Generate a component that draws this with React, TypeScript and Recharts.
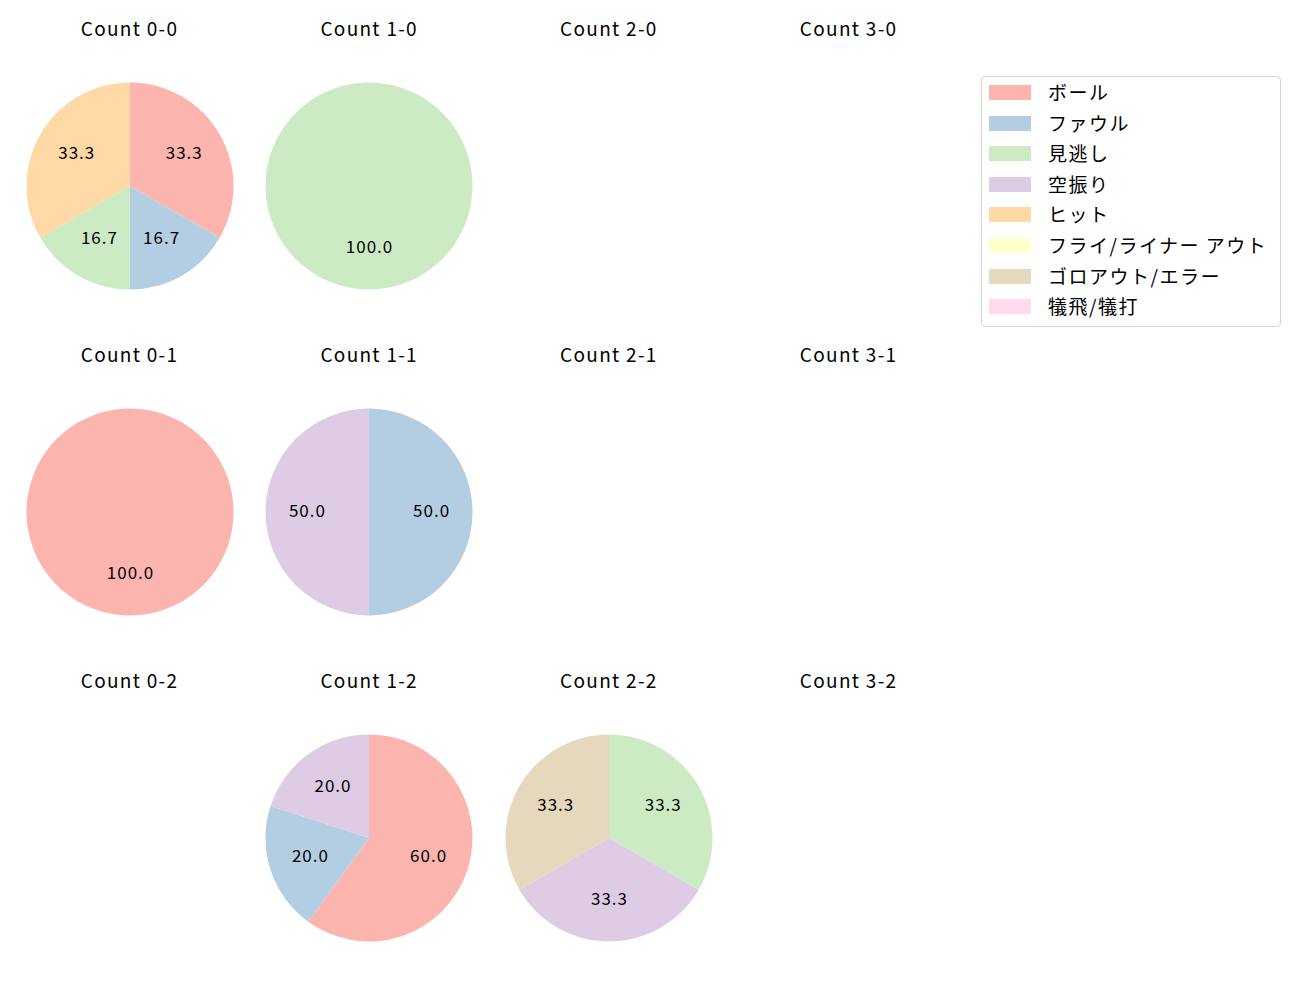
import { Cell, Pie, PieChart } from "recharts";

// Result categories and their colours (Pastel1)
const categories = [
	"ボール",
	"ファウル",
	"見逃し",
	"空振り",
	"ヒット",
	"フライ/ライナー アウト",
	"ゴロアウト/エラー",
	"犠飛/犠打",
];
const categoryColors = [
	"#fbb4ae",
	"#b3cde3",
	"#ccebc5",
	"#decbe4",
	"#fed9a6",
	"#ffffcc",
	"#e5d8bd",
	"#fddaec",
];

// Counts per category (same order as categories) for each ball-strike count
const balls = [0, 1, 2, 3];
const strikes = [0, 1, 2];
const count00 = [2, 1, 1, 0, 2, 0, 0, 0];
const count10 = [0, 0, 1, 0, 0, 0, 0, 0];
const count20 = [0, 0, 0, 0, 0, 0, 0, 0];
const count30 = [0, 0, 0, 0, 0, 0, 0, 0];
const count01 = [1, 0, 0, 0, 0, 0, 0, 0];
const count11 = [0, 1, 0, 1, 0, 0, 0, 0];
const count21 = [0, 0, 0, 0, 0, 0, 0, 0];
const count31 = [0, 0, 0, 0, 0, 0, 0, 0];
const count02 = [0, 0, 0, 0, 0, 0, 0, 0];
const count12 = [3, 1, 0, 1, 0, 0, 0, 0];
const count22 = [0, 0, 1, 1, 0, 0, 1, 0];
const count32 = [0, 0, 0, 0, 0, 0, 0, 0];

const countGrid = [
	[count00, count10, count20, count30],
	[count01, count11, count21, count31],
	[count02, count12, count22, count32],
];

const FONT = '"Noto Sans CJK JP", "Noto Sans", sans-serif';
const RADIAN = Math.PI / 180;
const CELL_W = 240;
const CELL_H = 326;
const RADIUS = 103.5;

function renderLabel(props: any) {
	const { cx, cy, midAngle, outerRadius, percent } = props;
	const r = outerRadius * 0.6;
	const x = cx + r * Math.cos(-midAngle * RADIAN);
	const y = cy + r * Math.sin(-midAngle * RADIAN);
	return (
		<text
			x={x + 0.5}
			y={y - 3}
			fill="#000"
			fontSize={17}
			fontFamily={FONT}
			letterSpacing={1}
			textAnchor="middle"
			dominantBaseline="central"
		>
			{(percent * 100).toFixed(1)}
		</text>
	);
}

function CountPie({ counts, title, left, top }: { counts: number[]; title: string; left: number; top: number }) {
	const data = categories
		.map((name, i) => ({ name, value: counts[i], color: categoryColors[i] }))
		.filter((d) => d.value > 0);

	return (
		<div style={{ position: "absolute", left, top, width: CELL_W, height: CELL_H }}>
			<div
				style={{
					position: "absolute",
					left: 0,
					top: -5,
					width: CELL_W,
					textAlign: "center",
					fontFamily: FONT,
					fontSize: 19,
					letterSpacing: 1.3,
					lineHeight: "1",
					color: "#000",
				}}
			>
				{title}
			</div>
			{data.length > 0 && (
				<PieChart width={CELL_W} height={CELL_H} margin={{ top: 0, right: 0, bottom: 0, left: 0 }}>
					<Pie
						data={data}
						dataKey="value"
						nameKey="name"
						cx={CELL_W / 2}
						cy={CELL_H / 2}
						outerRadius={RADIUS}
						startAngle={90}
						endAngle={-270}
						stroke="none"
						label={renderLabel}
						labelLine={false}
						isAnimationActive={false}
					>
						{data.map((d) => (
							<Cell key={d.name} fill={d.color} />
						))}
					</Pie>
				</PieChart>
			)}
		</div>
	);
}

export default function App() {
	return (
		<div style={{ position: "absolute", left: 0, top: 0, width: 1300, height: 1000, background: "#fff" }}>
			{strikes.map((s) =>
				balls.map((b) => {
					const cx = 129.5 + 239.7 * b;
					const cy = 185.5 + 326.3 * s;
					return (
						<CountPie
							key={`${b}-${s}`}
							counts={countGrid[s][b]}
							title={`Count ${b}-${s}`}
							left={cx - CELL_W / 2}
							top={cy - CELL_H / 2}
						/>
					);
				}),
			)}
			<div
				style={{
					position: "absolute",
					left: 981,
					top: 76,
					width: 298,
					height: 249,
					border: "1px solid #d5d5d5",
					borderRadius: 4,
					fontFamily: FONT,
					fontSize: 19,
					letterSpacing: 1.5,
					color: "#000",
				}}
			>
				{categories.map((name, i) => (
					<div
						key={name}
						style={{
							position: "absolute",
							left: 7,
							top: 8 + i * 30.6,
							display: "flex",
							alignItems: "center",
							height: 15,
							whiteSpace: "nowrap",
						}}
					>
						<span style={{ display: "inline-block", width: 42, height: 15, background: categoryColors[i] }} />
						<span style={{ marginLeft: 17, position: "relative", top: -1 }}>{name}</span>
					</div>
				))}
			</div>
		</div>
	);
}
